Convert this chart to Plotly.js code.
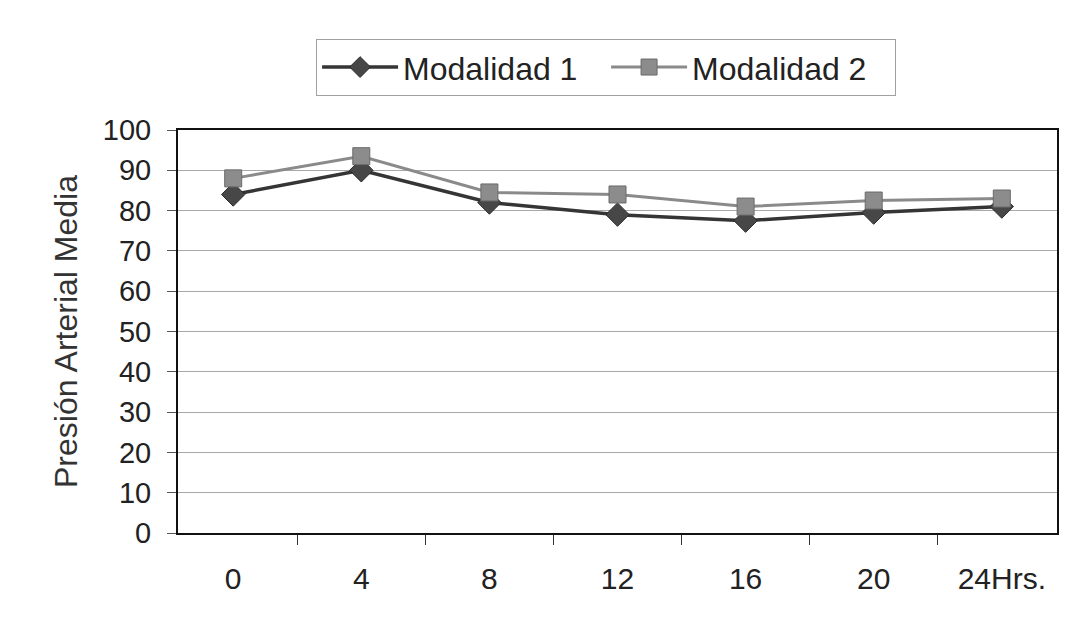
<!DOCTYPE html>
<html>
<head>
<meta charset="utf-8">
<script src="https://cdn.plot.ly/plotly-3.0.1.min.js"></script>
<style>html,body{margin:0;padding:0;background:#fff;}#chart{width:1076px;height:627px;}</style>
</head>
<body>
<div id="chart"></div>
<script>
var categories = ["0", "4", "8", "12", "16", "20", "24Hrs."];
var modalidad1 = [84, 90, 82, 79, 77.5, 79.5, 81];
var modalidad2 = [88, 93.5, 84.5, 84, 81, 82.5, 83];
var yTicks = [0, 10, 20, 30, 40, 50, 60, 70, 80, 90, 100];

var traces = [
  {
    x: categories, y: modalidad1, name: "Modalidad 1", type: "scatter", mode: "lines+markers",
    line: {color: "#353535", width: 3.5},
    marker: {symbol: "diamond", size: 18, color: "#474747", line: {color: "#2a2a2a", width: 1}}
  },
  {
    x: categories, y: modalidad2, name: "Modalidad 2", type: "scatter", mode: "lines+markers",
    line: {color: "#8a8a8a", width: 3},
    marker: {symbol: "square", size: 17, color: "#8c8c8c", line: {color: "#6a6a6a", width: 1}}
  }
];

var layout = {
  width: 1076, height: 627,
  margin: {l: 178, r: 19, t: 130, b: 94},
  paper_bgcolor: "#ffffff", plot_bgcolor: "#ffffff",
  font: {family: "Liberation Sans, Arial, sans-serif", color: "#222", size: 28},
  showlegend: true,
  legend: {
    orientation: "h", x: 0.487, xanchor: "center", y: 1.085, yanchor: "bottom",
    font: {size: 32, color: "#222"}, bordercolor: "#a0a0a0", borderwidth: 1,
    itemwidth: 76, entrywidth: 198, entrywidthmode: "pixels", bgcolor: "#ffffff"
  },
  xaxis: {
    type: "category", tickvals: categories, ticktext: categories,
    tickson: "boundaries", ticks: "outside", ticklen: 10, tickcolor: "#333",
    showline: true, linecolor: "#111", linewidth: 2, mirror: true,
    showgrid: false, zeroline: false,
    tickfont: {size: 30, color: "#222"}, ticklabelstandoff: 18
  },
  yaxis: {
    range: [0, 100], tickvals: yTicks, ticks: "outside", ticklen: 9, tickcolor: "#555",
    showline: true, linecolor: "#111", linewidth: 2, mirror: true,
    showgrid: true, gridcolor: "#a8a8a8", gridwidth: 1, zeroline: false,
    tickfont: {size: 29, color: "#222"}, ticklabelstandoff: 10,
    title: {text: "Presión Arterial Media", font: {size: 32, color: "#333"}, standoff: 16}
  }
};

Plotly.newPlot("chart", traces, layout, {displayModeBar: false, staticPlot: true});
</script>
</body>
</html>
